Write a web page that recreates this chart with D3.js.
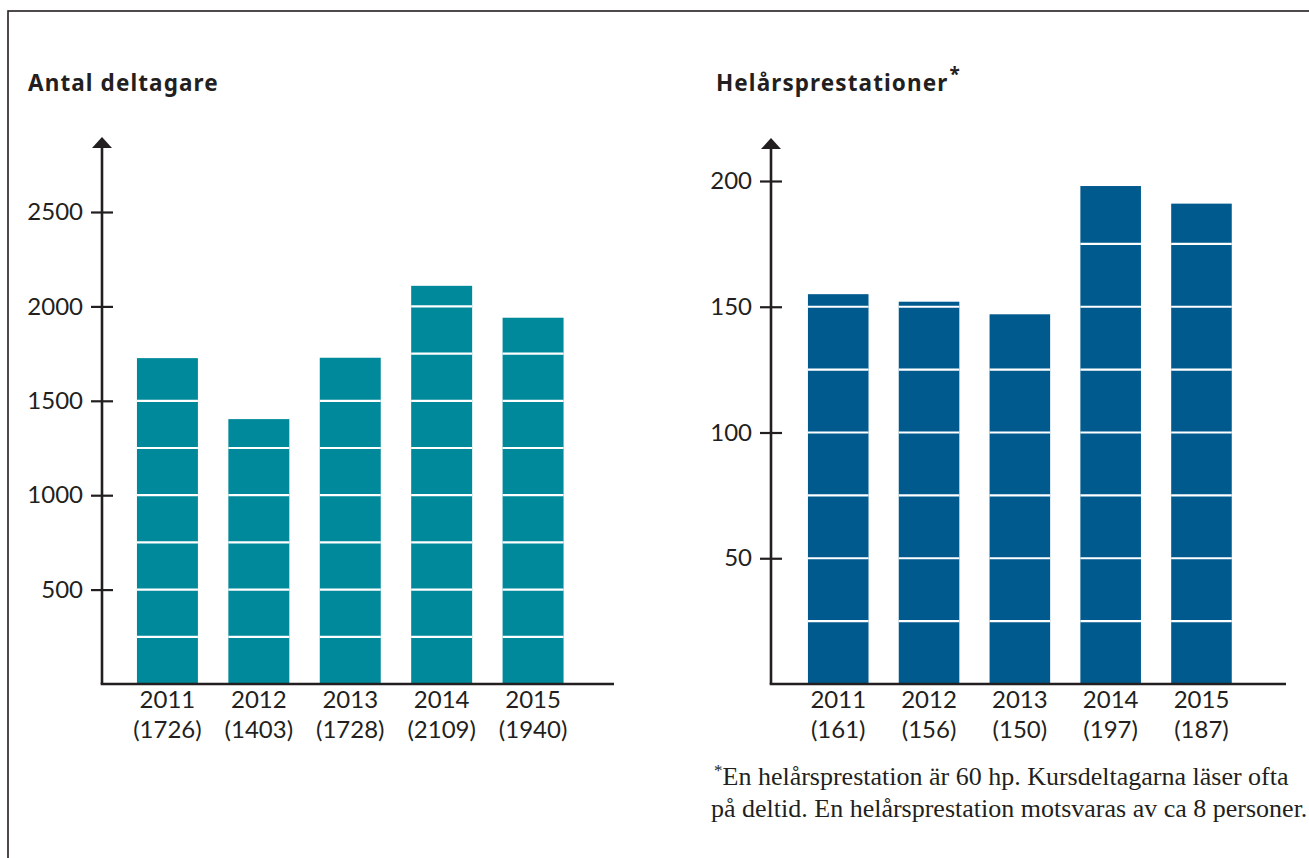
<!DOCTYPE html>
<html>
<head>
<meta charset="utf-8">
<script src="https://cdn.jsdelivr.net/npm/d3@7"></script>
<style>
  body { margin: 0; background: #fff; }
  svg { display: block; }
</style>
</head>
<body>
<div id="viz"></div>
<script>
const width = 1309;
const height = 858;

// data
const years = ["2011", "2012", "2013", "2014", "2015"];
const deltagare = [1726, 1403, 1728, 2109, 1940];
const deltagareLabels = ["(1726)", "(1403)", "(1728)", "(2109)", "(1940)"];
const deltagareTicks = [500, 1000, 1500, 2000, 2500];
// bar heights as drawn (labels differ slightly)
const hst = [155, 152, 147, 198, 191];
const hstLabels = ["(161)", "(156)", "(150)", "(197)", "(187)"];
const hstTicks = [50, 100, 150, 200];

const ink = "#231f20";
const sans = "Lato, 'Noto Sans', sans-serif";

const svg = d3.select("#viz").append("svg")
  .attr("width", width)
  .attr("height", height);

// frame (right and bottom edges fall outside the picture)
svg.append("rect")
  .attr("x", 8).attr("y", 11)
  .attr("width", 1330).attr("height", 880)
  .attr("fill", "none")
  .attr("stroke", ink)
  .attr("stroke-width", 1.6);

function drawPanel(opt) {
  const g = svg.append("g");

  const x = d3.scaleBand()
    .domain(years)
    .range(opt.xRange)
    .padding(0.333);

  const y = d3.scaleLinear()
    .domain([0, opt.max])
    .range([684, opt.topY]);

  // title
  const title = g.append("text")
    .attr("x", opt.titleX)
    .attr("y", 91)
    .style("font-family", "'Noto Sans', sans-serif")
    .style("font-weight", 700)
    .style("font-size", "22.5px")
    .style("letter-spacing", "1.1px")
    .style("fill", ink)
    .text(opt.title);
  if (opt.star) {
    title.append("tspan")
      .attr("dx", 1)
      .attr("dy", -10)
      .style("font-size", "19px")
      .text("*");
  }

  // bars
  g.selectAll(".bar")
    .data(opt.values)
    .join("rect")
    .attr("x", (d, i) => x(years[i]))
    .attr("width", x.bandwidth())
    .attr("y", d => y(d))
    .attr("height", d => y(0) - y(d))
    .attr("fill", opt.color);

  // white stripes inside bars
  opt.values.forEach((v, i) => {
    const stripes = d3.range(opt.stripe, v, opt.stripe);
    g.selectAll(null)
      .data(stripes)
      .join("line")
      .attr("x1", x(years[i]))
      .attr("x2", x(years[i]) + x.bandwidth())
      .attr("y1", d => y(d))
      .attr("y2", d => y(d))
      .attr("stroke", "#fff")
      .attr("stroke-width", 2.2);
  });

  // y axis
  const yAxis = g.append("g")
    .attr("transform", `translate(${opt.axisX},0)`)
    .call(d3.axisLeft(y).tickValues(opt.ticks).tickSize(11).tickPadding(8).tickFormat(d3.format("d")));
  yAxis.select(".domain").remove();
  yAxis.selectAll(".tick line")
    .attr("x1", 11)
    .attr("stroke", ink)
    .attr("stroke-width", 2.2);
  yAxis.selectAll(".tick text")
    .style("font-family", sans)
    .style("font-size", "24px")
    .style("fill", ink);

  g.append("line")
    .attr("x1", opt.axisX).attr("x2", opt.axisX)
    .attr("y1", 684).attr("y2", opt.arrowY + 8)
    .attr("stroke", ink).attr("stroke-width", 2.6);
  g.append("path")
    .attr("d", `M${opt.axisX},${opt.arrowY} L${opt.axisX - 10},${opt.arrowY + 11} L${opt.axisX + 10},${opt.arrowY + 11} Z`)
    .attr("fill", ink);

  // x axis
  g.append("line")
    .attr("x1", opt.axisX - 1.3).attr("x2", opt.xEnd)
    .attr("y1", 684).attr("y2", 684)
    .attr("stroke", ink).attr("stroke-width", 2.6);

  // category labels
  const lab = g.selectAll(".cat")
    .data(years)
    .join("text")
    .attr("text-anchor", "middle")
    .style("font-family", sans)
    .style("font-size", "24px")
    .style("fill", ink);
  lab.append("tspan")
    .attr("x", d => x(d) + x.bandwidth() / 2)
    .attr("y", 708)
    .text(d => d);
  lab.append("tspan")
    .attr("x", d => x(d) + x.bandwidth() / 2)
    .attr("y", 738)
    .text((d, i) => opt.labels[i]);
}

drawPanel({
  title: "Antal deltagare",
  titleX: 28,
  values: deltagare,
  labels: deltagareLabels,
  ticks: deltagareTicks,
  max: 2500,
  topY: 212,
  stripe: 250,
  color: "#00899a",
  axisX: 102,
  arrowY: 137,
  xEnd: 614,
  xRange: [106.5, 594]
});

drawPanel({
  title: "Helårsprestationer",
  star: true,
  titleX: 716,
  values: hst,
  labels: hstLabels,
  ticks: hstTicks,
  max: 200,
  topY: 181,
  stripe: 25,
  color: "#005a8e",
  axisX: 771,
  arrowY: 138,
  xEnd: 1286,
  xRange: [777.7, 1262]
});

// footnote
const note = svg.append("text")
  .style("font-family", "'Liberation Serif', 'DejaVu Serif', serif")
  .style("font-size", "26px")
  .style("fill", ink);
note.append("tspan").attr("x", 714).attr("y", 785)
  .append("tspan").attr("dy", -9).style("font-size", "17px").text("*");
note.append("tspan").attr("dy", 9).text("En helårsprestation är 60 hp. Kursdeltagarna läser ofta");
note.append("tspan").attr("x", 711).attr("y", 817)
  .text("på deltid. En helårsprestation motsvaras av ca 8 personer.");
</script>
</body>
</html>
